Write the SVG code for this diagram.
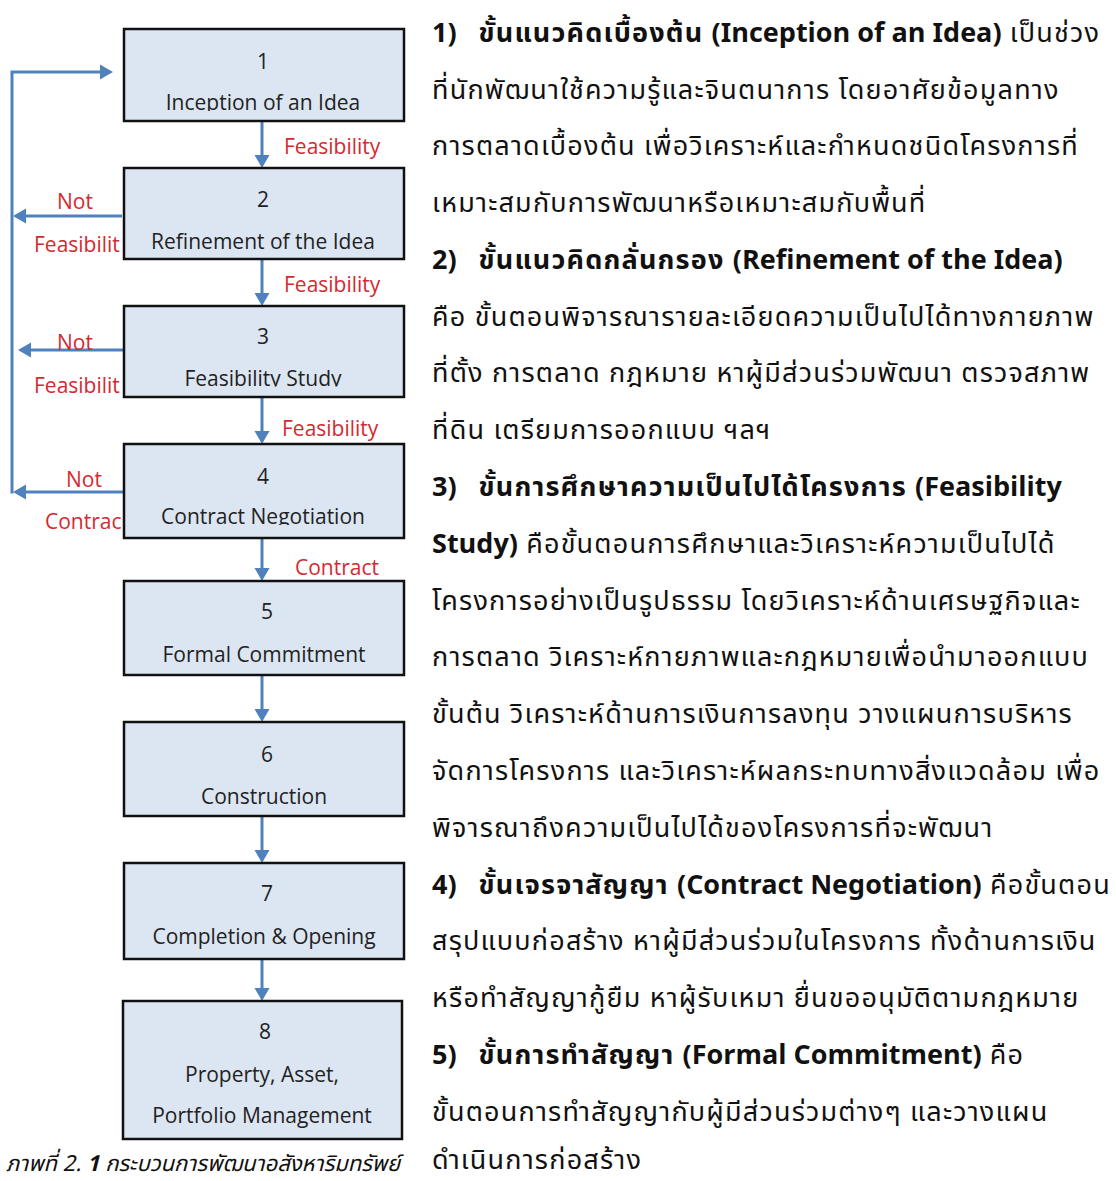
<svg xmlns="http://www.w3.org/2000/svg" width="1116" height="1181" viewBox="0 0 1116 1181">
  <style>
    .box rect { fill: #dce6f2; stroke: #111; stroke-width: 2.5; }
    .box text { font-family: "Open Sans", "Noto Sans", sans-serif; font-size: 21px; fill: #222; text-anchor: middle; }
    .lbl { font-family: "Open Sans", "Noto Sans", sans-serif; font-size: 21px; fill: #d42a2f; }
    .conn { stroke: #4f81bd; stroke-width: 3; fill: none; }
    .arr { marker-end: url(#ah); }
    .body { font-family: "Noto Sans Thai", "Leelawadee UI", "Noto Sans", sans-serif; font-size: 27px; fill: #111; letter-spacing: 1.2px; }
    .b { font-weight: bold; }
    .lat { letter-spacing: 0; }
    .cap { font-family: "Noto Sans Thai", "Noto Sans", sans-serif; font-size: 22px; font-style: italic; fill: #111; }
  </style>
  <defs>
    <marker id="ah" markerUnits="userSpaceOnUse" markerWidth="14" markerHeight="16" viewBox="0 0 14 16" refX="2" refY="8" orient="auto">
      <path d="M0,0.5 L13,8 L0,15.5 z" fill="#4f81bd"/>
    </marker>
    <clipPath id="clip1"><rect x="124" y="29" width="280" height="82"/></clipPath>
    <clipPath id="clip3"><rect x="124" y="306" width="280" height="80.5"/></clipPath>
    <clipPath id="clip4"><rect x="124" y="444" width="280" height="81"/></clipPath>
  </defs>

  <!-- connectors -->
  <g id="connectors">
    <path class="conn arr" d="M262,121 V157"/>
    <path class="conn arr" d="M262,259 V295"/>
    <path class="conn arr" d="M262,397 V433"/>
    <path class="conn arr" d="M262,538 V570"/>
    <path class="conn arr" d="M262,675 V711"/>
    <path class="conn arr" d="M262,816 V852"/>
    <path class="conn arr" d="M262,959 V990"/>
    <path class="conn arr" d="M122,216 H24"/>
    <path class="conn arr" d="M124,350 H29"/>
    <path class="conn arr" d="M124,492 H24"/>
    <path class="conn arr" d="M12,493.5 V72 H102"/>
  </g>

  <!-- connector labels -->
  <g id="labels">
    <text class="lbl" x="284" y="154">Feasibility</text>
    <text class="lbl" x="75" y="209" text-anchor="middle">Not</text>
    <text class="lbl" x="34" y="252">Feasibilit</text>
    <text class="lbl" x="284" y="292">Feasibility</text>
    <text class="lbl" x="75" y="350" text-anchor="middle">Not</text>
    <text class="lbl" x="34" y="393">Feasibilit</text>
    <text class="lbl" x="282" y="436">Feasibility</text>
    <text class="lbl" x="84" y="487" text-anchor="middle">Not</text>
    <text class="lbl" x="45" y="529">Contrac</text>
    <text class="lbl" x="295" y="575">Contract</text>
  </g>

  <!-- process steps -->
  <g id="step1" class="box">
    <rect x="124" y="29" width="280" height="92"/>
    <text x="263" y="69">1</text>
    <text x="263" y="109.5" clip-path="url(#clip1)">Inception of an Idea</text>
  </g>
  <g id="step2" class="box">
    <rect x="124" y="168" width="280" height="91"/>
    <text x="263" y="207">2</text>
    <text x="263" y="249">Refinement of the Idea</text>
  </g>
  <g id="step3" class="box">
    <rect x="124" y="306" width="280" height="91"/>
    <text x="263" y="344">3</text>
    <text x="263" y="385.5" clip-path="url(#clip3)">Feasibility Study</text>
  </g>
  <g id="step4" class="box">
    <rect x="124" y="444" width="280" height="94"/>
    <text x="263" y="484">4</text>
    <text x="263" y="523.5" clip-path="url(#clip4)">Contract Negotiation</text>
  </g>
  <g id="step5" class="box">
    <rect x="124" y="581" width="280" height="94"/>
    <text x="267" y="619">5</text>
    <text x="264" y="662">Formal Commitment</text>
  </g>
  <g id="step6" class="box">
    <rect x="124" y="722" width="280" height="94"/>
    <text x="267" y="762">6</text>
    <text x="264" y="804">Construction</text>
  </g>
  <g id="step7" class="box">
    <rect x="124" y="863" width="280" height="96"/>
    <text x="267" y="901">7</text>
    <text x="264" y="944">Completion &amp; Opening</text>
  </g>
  <g id="step8" class="box">
    <rect x="123" y="1001" width="279" height="138"/>
    <text x="265" y="1039">8</text>
    <text x="262" y="1082">Property, Asset,</text>
    <text x="262" y="1123">Portfolio Management</text>
  </g>

  <!-- caption -->
  <text class="cap" x="6" y="1171">ภาพที่ 2. <tspan font-weight="bold">1</tspan> กระบวนการพัฒนาอสังหาริมทรัพย์</text>

  <!-- description text -->
  <g id="description" class="body">
    <text x="432" y="42"><tspan class="b lat">1)</tspan><tspan class="b" dx="22">ขั้นแนวคิดเบื้องต้น </tspan><tspan class="b lat">(Inception of an Idea)</tspan> เป็นช่วง</text>
    <text x="432" y="99">ที่นักพัฒนาใช้ความรู้และจินตนาการ โดยอาศัยข้อมูลทาง</text>
    <text x="432" y="155">การตลาดเบื้องต้น เพื่อวิเคราะห์และกำหนดชนิดโครงการที่</text>
    <text x="432" y="212">เหมาะสมกับการพัฒนาหรือเหมาะสมกับพื้นที่</text>
    <text x="432" y="269"><tspan class="b lat">2)</tspan><tspan class="b" dx="22">ขั้นแนวคิดกลั่นกรอง </tspan><tspan class="b lat">(Refinement of the Idea)</tspan></text>
    <text x="432" y="326">คือ ขั้นตอนพิจารณารายละเอียดความเป็นไปได้ทางกายภาพ</text>
    <text x="432" y="382">ที่ตั้ง การตลาด กฎหมาย หาผู้มีส่วนร่วมพัฒนา ตรวจสภาพ</text>
    <text x="432" y="439">ที่ดิน เตรียมการออกแบบ ฯลฯ</text>
    <text x="432" y="496"><tspan class="b lat">3)</tspan><tspan class="b" dx="22">ขั้นการศึกษาความเป็นไปได้โครงการ </tspan><tspan class="b lat">(Feasibility</tspan></text>
    <text x="432" y="553"><tspan class="b lat">Study)</tspan> คือขั้นตอนการศึกษาและวิเคราะห์ความเป็นไปได้</text>
    <text x="432" y="610">โครงการอย่างเป็นรูปธรรม โดยวิเคราะห์ด้านเศรษฐกิจและ</text>
    <text x="432" y="666">การตลาด วิเคราะห์กายภาพและกฎหมายเพื่อนำมาออกแบบ</text>
    <text x="432" y="723">ขั้นต้น วิเคราะห์ด้านการเงินการลงทุน วางแผนการบริหาร</text>
    <text x="432" y="780">จัดการโครงการ และวิเคราะห์ผลกระทบทางสิ่งแวดล้อม เพื่อ</text>
    <text x="432" y="837">พิจารณาถึงความเป็นไปได้ของโครงการที่จะพัฒนา</text>
    <text x="432" y="894"><tspan class="b lat">4)</tspan><tspan class="b" dx="22">ขั้นเจรจาสัญญา </tspan><tspan class="b lat">(Contract Negotiation)</tspan> คือขั้นตอน</text>
    <text x="432" y="950">สรุปแบบก่อสร้าง หาผู้มีส่วนร่วมในโครงการ ทั้งด้านการเงิน</text>
    <text x="432" y="1007">หรือทำสัญญากู้ยืม หาผู้รับเหมา ยื่นขออนุมัติตามกฎหมาย</text>
    <text x="432" y="1064"><tspan class="b lat">5)</tspan><tspan class="b" dx="22">ขั้นการทำสัญญา </tspan><tspan class="b lat">(Formal Commitment)</tspan> คือ</text>
    <text x="432" y="1121">ขั้นตอนการทำสัญญากับผู้มีส่วนร่วมต่างๆ และวางแผน</text>
    <text x="432" y="1169">ดำเนินการก่อสร้าง</text>
  </g>
</svg>
